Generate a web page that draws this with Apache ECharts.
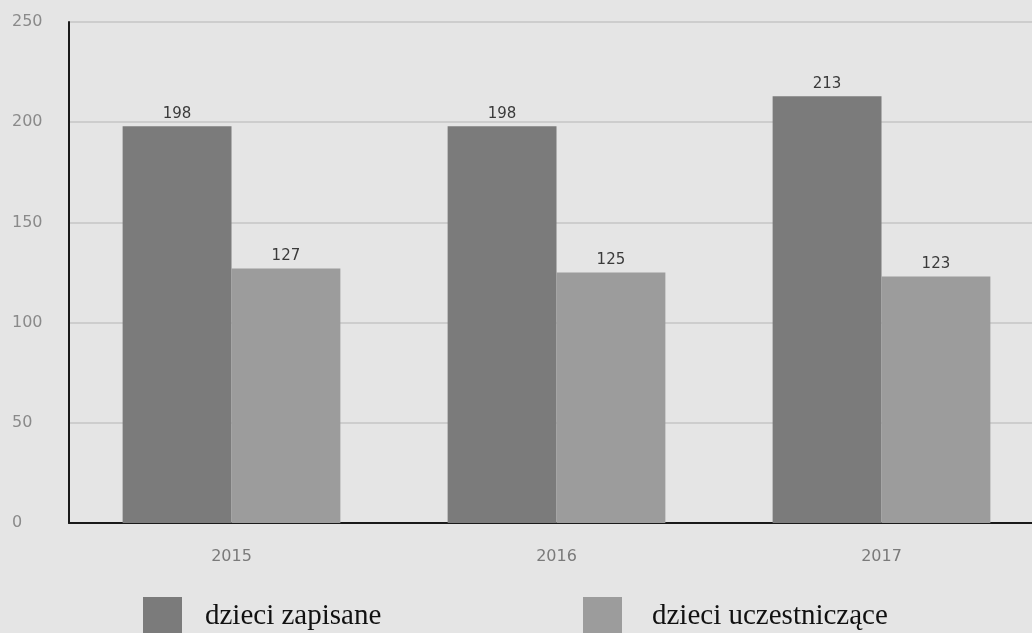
<!DOCTYPE html>
<html><head><meta charset="utf-8">
<script src="https://cdn.jsdelivr.net/npm/echarts@6/dist/echarts.min.js"></script>
<style>html,body{margin:0;padding:0;background:#e5e5e5;}#c{width:1032px;height:633px;}</style>
</head><body><div id="c"></div>
<script>
const categories = ['2015', '2016', '2017'];
const zapisane = [198, 198, 213];
const uczestniczace = [127, 125, 123];
const seriesNames = ['dzieci zapisane', 'dzieci uczestniczące'];
const yTicks = [0, 50, 100, 150, 200, 250];

const chart = echarts.init(document.getElementById('c'));
function legendItem(left, name, gap) {
  return {
    left: left, top: 597, padding: 0, itemWidth: 39, itemHeight: 38, icon: 'rect',
    data: [name],
    textStyle: { fontFamily: 'Liberation Serif', fontSize: 29, color: '#111', padding: [12, 0, 0, gap] }
  };
}
chart.setOption({
  backgroundColor: '#e5e5e5',
  animation: false,
  grid: { left: 69, width: 975, top: 22, bottom: 110, containLabel: false, outerBoundsMode: 'none' },
  legend: [
    legendItem(143, seriesNames[0], 18),
    legendItem(583, seriesNames[1], 25)
  ],
  xAxis: {
    type: 'category', data: categories,
    axisLine: { lineStyle: { color: '#1a1a1a', width: 2 } },
    axisTick: { show: false },
    axisLabel: { color: '#7a7a7a', fontSize: 16, fontFamily: 'DejaVu Sans', margin: 26 }
  },
  yAxis: {
    type: 'value', min: yTicks[0], max: yTicks[yTicks.length - 1], interval: 50,
    axisLine: { show: true, lineStyle: { color: '#1a1a1a', width: 2 } },
    axisTick: { show: false },
    axisLabel: { color: '#8a8a8a', fontSize: 16, fontFamily: 'DejaVu Sans', align: 'left', margin: 57, padding: [4, 0, 0, 0] },
    splitLine: { lineStyle: { color: '#cdcdcd', width: 2 } }
  },
  series: [
    {
      name: seriesNames[0], type: 'bar', data: zapisane,
      barGap: '0%', barCategoryGap: '33%',
      itemStyle: { color: '#7b7b7b' },
      label: { show: true, position: 'top', color: '#3a3a3a', fontSize: 15, fontFamily: 'DejaVu Sans', distance: 5 }
    },
    {
      name: seriesNames[1], type: 'bar', data: uczestniczace,
      barGap: '0%', barCategoryGap: '33%',
      itemStyle: { color: '#9c9c9c' },
      label: { show: true, position: 'top', color: '#3a3a3a', fontSize: 15, fontFamily: 'DejaVu Sans', distance: 5 }
    }
  ]
});
</script></body></html>
